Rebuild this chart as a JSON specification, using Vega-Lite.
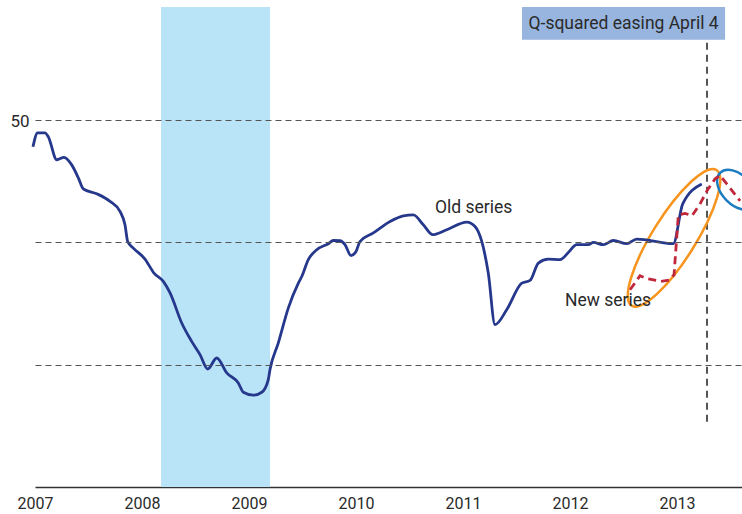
{
  "$schema": "https://vega.github.io/schema/vega-lite/v6.json",
  "width": 707,
  "height": 480,
  "autosize": {"type": "none"},
  "padding": {"left": 35, "top": 7, "right": 0, "bottom": 27},
  "background": "white",
  "config": {
    "view": {"stroke": null},
    "font": "Roboto, 'Noto Sans', sans-serif"
  },
  "datasets": {
    "band": [{"x": 2008.178, "x2": 2009.196, "y": 35, "y2": 54.61}],
    "box": [{"x": 2011.551, "x2": 2013.449, "y": 53.27, "y2": 54.61}],
    "boxlabel": [{"x": 2012.5, "y": 53.93, "label": "Q-squared easing April 4"}],
    "vline": [{"x": 2013.28, "y": 37.67, "y2": 53.2}],
    "ellipseOrange": [{"x": 2012.972, "y": 45.18}],
    "ellipseBlue": [{"x": 2013.561, "y": 47.14}],
    "labels": [
      {"x": 2010.738, "y": 46.41, "label": "Old series"},
      {"x": 2011.953, "y": 42.58, "label": "New series"}
    ],
    "old": [
      {"x": 2006.981, "y": 48.90},
      {"x": 2007.025, "y": 49.47},
      {"x": 2007.093, "y": 49.47},
      {"x": 2007.124, "y": 49.31},
      {"x": 2007.203, "y": 48.37},
      {"x": 2007.271, "y": 48.47},
      {"x": 2007.343, "y": 48.16},
      {"x": 2007.405, "y": 47.63},
      {"x": 2007.451, "y": 47.18},
      {"x": 2007.577, "y": 46.98},
      {"x": 2007.701, "y": 46.67},
      {"x": 2007.794, "y": 46.26},
      {"x": 2007.841, "y": 45.71},
      {"x": 2007.866, "y": 45.03},
      {"x": 2007.919, "y": 44.76},
      {"x": 2008.028, "y": 44.31},
      {"x": 2008.112, "y": 43.74},
      {"x": 2008.199, "y": 43.40},
      {"x": 2008.262, "y": 42.93},
      {"x": 2008.371, "y": 41.70},
      {"x": 2008.464, "y": 40.95},
      {"x": 2008.542, "y": 40.41},
      {"x": 2008.614, "y": 39.82},
      {"x": 2008.698, "y": 40.27},
      {"x": 2008.792, "y": 39.66},
      {"x": 2008.900, "y": 39.25},
      {"x": 2008.947, "y": 38.87},
      {"x": 2009.040, "y": 38.75},
      {"x": 2009.119, "y": 38.87},
      {"x": 2009.180, "y": 39.39},
      {"x": 2009.196, "y": 39.80},
      {"x": 2009.274, "y": 40.89},
      {"x": 2009.367, "y": 42.31},
      {"x": 2009.461, "y": 43.33},
      {"x": 2009.493, "y": 43.60},
      {"x": 2009.554, "y": 44.29},
      {"x": 2009.633, "y": 44.69},
      {"x": 2009.741, "y": 44.94},
      {"x": 2009.788, "y": 45.07},
      {"x": 2009.850, "y": 45.06},
      {"x": 2009.897, "y": 44.90},
      {"x": 2009.953, "y": 44.45},
      {"x": 2010.000, "y": 44.62},
      {"x": 2010.037, "y": 45.03},
      {"x": 2010.162, "y": 45.38},
      {"x": 2010.318, "y": 45.85},
      {"x": 2010.442, "y": 46.08},
      {"x": 2010.536, "y": 46.12},
      {"x": 2010.629, "y": 45.71},
      {"x": 2010.717, "y": 45.31},
      {"x": 2010.848, "y": 45.51},
      {"x": 2011.035, "y": 45.82},
      {"x": 2011.112, "y": 45.64},
      {"x": 2011.175, "y": 45.03},
      {"x": 2011.236, "y": 43.74},
      {"x": 2011.299, "y": 41.63},
      {"x": 2011.408, "y": 42.24},
      {"x": 2011.549, "y": 43.33},
      {"x": 2011.626, "y": 43.44},
      {"x": 2011.704, "y": 44.15},
      {"x": 2011.797, "y": 44.31},
      {"x": 2011.907, "y": 44.29},
      {"x": 2011.984, "y": 44.58},
      {"x": 2012.063, "y": 44.90},
      {"x": 2012.171, "y": 44.90},
      {"x": 2012.218, "y": 44.99},
      {"x": 2012.311, "y": 44.90},
      {"x": 2012.405, "y": 45.07},
      {"x": 2012.530, "y": 44.94},
      {"x": 2012.623, "y": 45.13},
      {"x": 2012.965, "y": 44.94},
      {"x": 2013.053, "y": 46.57},
      {"x": 2013.231, "y": 47.38}
    ],
    "new": [
      {"x": 2012.561, "y": 43.06},
      {"x": 2012.654, "y": 43.63},
      {"x": 2012.729, "y": 43.50},
      {"x": 2012.850, "y": 43.40},
      {"x": 2012.925, "y": 43.45},
      {"x": 2012.972, "y": 43.67},
      {"x": 2013.012, "y": 46.12},
      {"x": 2013.075, "y": 46.18},
      {"x": 2013.140, "y": 46.08},
      {"x": 2013.215, "y": 46.57},
      {"x": 2013.280, "y": 47.10},
      {"x": 2013.355, "y": 47.59},
      {"x": 2013.402, "y": 47.73},
      {"x": 2013.477, "y": 47.31},
      {"x": 2013.589, "y": 46.69}
    ]
  },
  "encoding": {
    "x": {
      "field": "x",
      "type": "quantitative",
      "scale": {"domain": [2007, 2013.607], "nice": false, "zero": false},
      "axis": {
        "values": [2007, 2008, 2009, 2010, 2011, 2012, 2013],
        "format": "d",
        "title": null,
        "ticks": false,
        "grid": false,
        "domainColor": "#333333",
        "domainWidth": 1.5,
        "labelFontSize": 16,
        "labelColor": "#2a2a2a",
        "labelPadding": 8,
        "labelFlush": false
      }
    },
    "y": {
      "field": "y",
      "type": "quantitative",
      "scale": {"domain": [35, 54.61], "nice": false, "zero": false},
      "axis": {
        "values": [40, 45, 50],
        "labelExpr": "datum.value == 50 ? '50' : ''",
        "title": null,
        "ticks": false,
        "domain": false,
        "grid": true,
        "gridDash": [6, 4],
        "gridColor": "#555555",
        "gridWidth": 1,
        "labelFontSize": 17,
        "labelColor": "#2a2a2a",
        "labelPadding": 6,
        "labelOffset": 2,
        "zindex": 1
      }
    }
  },
  "layer": [
    {
      "data": {"name": "band"},
      "mark": {"type": "rect", "color": "#b9e4f8"},
      "encoding": {"x2": {"field": "x2"}, "y2": {"field": "y2"}}
    },
    {
      "data": {"name": "box"},
      "mark": {"type": "rect", "color": "#97b5df"},
      "encoding": {"x2": {"field": "x2"}, "y2": {"field": "y2"}}
    },
    {
      "data": {"name": "boxlabel"},
      "mark": {"type": "text", "fontSize": 17.5, "color": "#2a2a2a", "align": "center", "baseline": "middle"},
      "encoding": {"text": {"field": "label"}}
    },
    {
      "data": {"name": "vline"},
      "mark": {"type": "rule", "color": "#555555", "strokeWidth": 2, "strokeDash": [7, 5]},
      "encoding": {"y2": {"field": "y2"}}
    },
    {
      "data": {"name": "ellipseOrange"},
      "mark": {
        "type": "point",
        "shape": "M-1,0A1,0.27,0,1,1,1,0A1,0.27,0,1,1,-1,0Z",
        "size": 25600,
        "angle": -58,
        "filled": false,
        "stroke": "#f7941d",
        "strokeWidth": 2.5,
        "opacity": 1
      }
    },
    {
      "data": {"name": "ellipseBlue"},
      "mark": {
        "type": "point",
        "shape": "M-1,0A1,0.62,0,1,1,1,0A1,0.62,0,1,1,-1,0Z",
        "size": 2304,
        "angle": 45,
        "filled": false,
        "stroke": "#1b7cc2",
        "strokeWidth": 2.5,
        "opacity": 1
      }
    },
    {
      "data": {"name": "old"},
      "mark": {"type": "line", "color": "#26388c", "strokeWidth": 2.8, "interpolate": "monotone"}
    },
    {
      "data": {"name": "new"},
      "mark": {"type": "line", "color": "#c1273a", "strokeWidth": 2.8, "strokeDash": [8, 5]}
    },
    {
      "data": {"name": "labels"},
      "mark": {"type": "text", "fontSize": 17.5, "color": "#2a2a2a", "align": "left", "baseline": "middle"},
      "encoding": {"text": {"field": "label"}}
    }
  ]
}
